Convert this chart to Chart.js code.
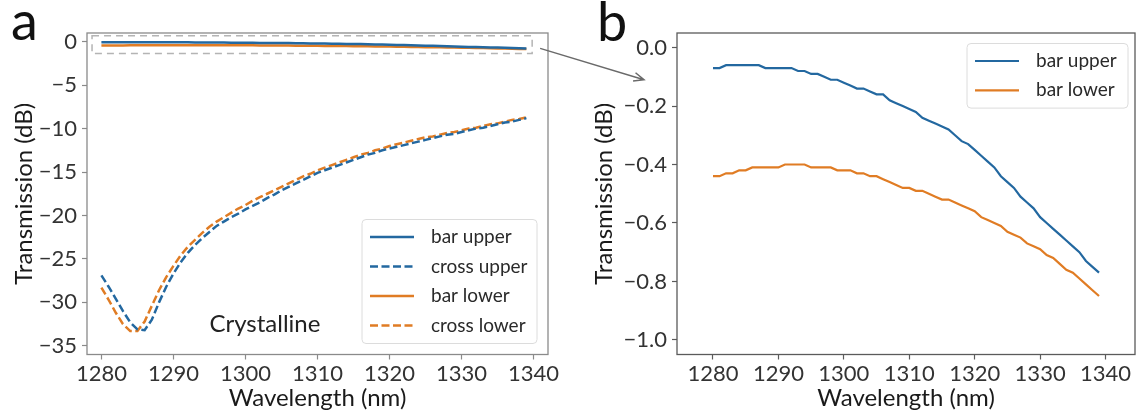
<!DOCTYPE html>
<html>
<head>
<meta charset="utf-8">
<script src="https://cdn.jsdelivr.net/npm/chart.js@4.4.1/dist/chart.umd.min.js"></script>
<style>
  body { margin: 0; background: #fff; }
  #wrap { position: relative; width: 1137px; height: 419px; overflow: hidden; }
  canvas { position: absolute; top: 0; }
  #chart-a { left: 0; }
  #chart-b { left: 580px; }
  #overlay { left: 0; pointer-events: none; }
</style>
</head>
<body>
<div id="wrap">
  <canvas id="chart-a" width="570" height="419"></canvas>
  <canvas id="chart-b" width="557" height="419"></canvas>
  <canvas id="overlay" width="1137" height="419"></canvas>
</div>
<script>
// Measured transmission, 1 nm steps
const wavelength = [
  1280, 1281, 1282, 1283, 1284, 1285, 1286, 1287, 1288, 1289,
  1290, 1291, 1292, 1293, 1294, 1295, 1296, 1297, 1298, 1299,
  1300, 1301, 1302, 1303, 1304, 1305, 1306, 1307, 1308, 1309,
  1310, 1311, 1312, 1313, 1314, 1315, 1316, 1317, 1318, 1319,
  1320, 1321, 1322, 1323, 1324, 1325, 1326, 1327, 1328, 1329,
  1330, 1331, 1332, 1333, 1334, 1335, 1336, 1337, 1338, 1339
];
const barUpper = [
  -0.07, -0.07, -0.06, -0.06, -0.06, -0.06, -0.06, -0.06, -0.07, -0.07,
  -0.07, -0.07, -0.07, -0.08, -0.08, -0.09, -0.09, -0.10, -0.11, -0.11,
  -0.12, -0.13, -0.14, -0.14, -0.15, -0.16, -0.16, -0.18, -0.19, -0.20,
  -0.21, -0.22, -0.24, -0.25, -0.26, -0.27, -0.28, -0.30, -0.32, -0.33,
  -0.35, -0.37, -0.39, -0.41, -0.44, -0.46, -0.48, -0.51, -0.53, -0.55,
  -0.58, -0.60, -0.62, -0.64, -0.66, -0.68, -0.70, -0.73, -0.75, -0.77
];
const barLower = [
  -0.44, -0.44, -0.43, -0.43, -0.42, -0.42, -0.41, -0.41, -0.41, -0.41,
  -0.41, -0.40, -0.40, -0.40, -0.40, -0.41, -0.41, -0.41, -0.41, -0.42,
  -0.42, -0.42, -0.43, -0.43, -0.44, -0.44, -0.45, -0.46, -0.47, -0.48,
  -0.48, -0.49, -0.49, -0.50, -0.51, -0.52, -0.52, -0.53, -0.54, -0.55,
  -0.56, -0.58, -0.59, -0.60, -0.61, -0.63, -0.64, -0.65, -0.67, -0.68,
  -0.69, -0.71, -0.72, -0.74, -0.76, -0.77, -0.79, -0.81, -0.83, -0.85
];
const crossUpper = [
  -26.9, -28.2, -29.6, -31.0, -32.3, -33.1, -33.2, -32.0, -30.0, -28.2,
  -26.7, -25.4, -24.3, -23.4, -22.6, -21.9, -21.2, -20.7, -20.2, -19.8,
  -19.3, -18.9, -18.5, -18.0, -17.6, -17.1, -16.7, -16.3, -15.9, -15.5,
  -15.1, -14.8, -14.5, -14.2, -13.9, -13.6, -13.3, -13.0, -12.8, -12.5,
  -12.3, -12.1, -11.9, -11.7, -11.5, -11.3, -11.1, -10.9, -10.7, -10.6,
  -10.4, -10.2, -10.0, -9.9, -9.7, -9.5, -9.3, -9.2, -9.0, -8.8
];
const crossLower = [
  -28.3, -29.7, -31.2, -32.5, -33.3, -33.3, -32.2, -30.4, -28.6, -27.1,
  -25.8, -24.6, -23.6, -22.8, -22.0, -21.3, -20.7, -20.2, -19.7, -19.2,
  -18.8, -18.3, -17.9, -17.5, -17.1, -16.7, -16.3, -15.9, -15.5, -15.2,
  -14.8, -14.5, -14.2, -13.9, -13.6, -13.3, -13.0, -12.8, -12.5, -12.3,
  -12.0, -11.8, -11.6, -11.4, -11.2, -11.0, -10.9, -10.7, -10.5, -10.4,
  -10.2, -10.0, -9.9, -9.7, -9.5, -9.4, -9.2, -9.0, -8.9, -8.7
];

const xTicks = [1280, 1290, 1300, 1310, 1320, 1330, 1340];
const yTicksA = [0, -5, -10, -15, -20, -25, -30, -35];
const yTicksB = [0, -0.2, -0.4, -0.6, -0.8, -1.0];

// zoomed region marked on panel a
const zoomBoxX = [1278.7, 1339.8];
const zoomBoxY = [-1.35, 0.68];

const FONT = 'Lato, "Open Sans", sans-serif';
const BLUE = '#2368a0';
const ORANGE = '#e07c24';
const DASH = [8, 3.5];

function points(ys) {
  return wavelength.map((x, i) => ({ x: x, y: ys[i] }));
}

function minusFmt(v, digits) {
  const s = Math.abs(v).toFixed(digits);
  return v < 0 ? '\u2212' + s : s;
}

// Frame round the plot area, all four sides
const framePlugin = {
  id: 'frame',
  afterDraw(chart, args, opts) {
    const a = chart.chartArea;
    const ctx = chart.ctx;
    ctx.save();
    ctx.strokeStyle = opts.color;
    ctx.lineWidth = 1.3;
    ctx.strokeRect(a.left, a.top, a.right - a.left, a.bottom - a.top);
    ctx.restore();
  }
};

// Legend box tucked into a corner of the plot area
const boxLegend = {
  id: 'boxLegend',
  afterDraw(chart, args, opts) {
    const a = chart.chartArea;
    const ctx = chart.ctx;
    const sets = chart.data.datasets;
    const w = opts.width;
    const h = opts.rowGap * sets.length + 6;
    const x0 = a.right - opts.right - w;
    const y0 = opts.bottom !== undefined ? a.bottom - opts.bottom - h : a.top + opts.top;
    ctx.save();
    ctx.beginPath();
    ctx.roundRect(x0, y0, w, h, 4);
    ctx.fillStyle = 'rgba(255,255,255,0.85)';
    ctx.fill();
    ctx.strokeStyle = '#dcdcdc';
    ctx.lineWidth = 1;
    ctx.stroke();
    ctx.font = opts.fontSize + 'px ' + FONT;
    ctx.textBaseline = 'middle';
    ctx.fillStyle = '#2a2a2a';
    sets.forEach((ds, i) => {
      const y = y0 + 17.5 + i * opts.rowGap;
      ctx.beginPath();
      ctx.setLineDash(ds.borderDash || []);
      ctx.strokeStyle = ds.borderColor;
      ctx.lineWidth = ds.borderWidth;
      ctx.moveTo(x0 + 8, y);
      ctx.lineTo(x0 + 52, y);
      ctx.stroke();
      ctx.setLineDash([]);
      ctx.fillText(ds.label, x0 + 69, y);
    });
    ctx.restore();
  }
};

// Dashed box and "Crystalline" label on panel a
const panelANotes = {
  id: 'panelANotes',
  beforeDatasetsDraw(chart) {
    const xs = chart.scales.x, ys = chart.scales.y;
    const ctx = chart.ctx;
    const l = xs.getPixelForValue(zoomBoxX[0]);
    const r = xs.getPixelForValue(zoomBoxX[1]);
    const t = ys.getPixelForValue(zoomBoxY[1]);
    const b = ys.getPixelForValue(zoomBoxY[0]);
    ctx.save();
    ctx.setLineDash([7, 5]);
    ctx.strokeStyle = '#b4b4b4';
    ctx.lineWidth = 1.5;
    ctx.strokeRect(l, t, r - l, b - t);
    ctx.restore();
  },
  afterDatasetsDraw(chart) {
    const xs = chart.scales.x, ys = chart.scales.y;
    const ctx = chart.ctx;
    ctx.save();
    ctx.font = '24px ' + FONT;
    ctx.fillStyle = '#222';
    ctx.textAlign = 'center';
    ctx.textBaseline = 'middle';
    ctx.fillText('Crystalline', xs.getPixelForValue(1302.7), ys.getPixelForValue(-32.5));
    ctx.restore();
  }
};

function scalesFor(xMin, xMax, yMin, yMax, yTicks, yDigits, yWidth, frameColor) {
  const tickFont = { family: FONT, size: 22 };
  const titleFont = { family: FONT, size: 24 };
  const grid = { display: true, drawOnChartArea: false, drawTicks: true, tickLength: 5, color: frameColor, tickWidth: 1.2 };
  return {
    x: {
      type: 'linear',
      min: xMin,
      max: xMax,
      afterBuildTicks: s => { s.ticks = xTicks.map(v => ({ value: v })); },
      afterFit: s => { s.height = 64.5; },
      ticks: { font: tickFont, color: '#333', padding: 1, autoSkip: false, maxRotation: 0, callback: v => String(v) },
      grid: grid,
      border: { display: false },
      title: { display: true, text: 'Wavelength (nm)', font: titleFont, color: '#1a1a1a', padding: { top: 0, bottom: 6 } }
    },
    y: {
      type: 'linear',
      min: yMin,
      max: yMax,
      afterBuildTicks: s => { s.ticks = yTicks.map(v => ({ value: v })); },
      afterFit: s => { s.width = yWidth; },
      ticks: { font: tickFont, color: '#333', padding: 5, autoSkip: false, callback: v => minusFmt(v, yDigits) },
      grid: grid,
      border: { display: false },
      title: { display: true, text: 'Transmission (dB)', font: titleFont, color: '#1a1a1a', padding: { top: 10, bottom: 0 } }
    }
  };
}

const chartA = new Chart(document.getElementById('chart-a'), {
  type: 'line',
  data: {
    datasets: [
      { label: 'bar upper', data: points(barUpper), borderColor: BLUE, borderWidth: 2.5 },
      { label: 'cross upper', data: points(crossUpper), borderColor: BLUE, borderWidth: 2.5, borderDash: DASH },
      { label: 'bar lower', data: points(barLower), borderColor: ORANGE, borderWidth: 2.5 },
      { label: 'cross lower', data: points(crossLower), borderColor: ORANGE, borderWidth: 2.5, borderDash: DASH }
    ]
  },
  options: {
    responsive: false,
    animation: false,
    devicePixelRatio: 1,
    elements: { point: { radius: 0 }, line: { tension: 0, fill: false } },
    layout: { padding: { left: 0, top: 33, right: 22, bottom: 0 } },
    scales: scalesFor(1278, 1342, -36, 1, yTicksA, 0, 87, '#8a8a8a'),
    plugins: {
      legend: { display: false },
      tooltip: { enabled: false },
      frame: { color: '#8a8a8a' },
      boxLegend: { width: 175, right: 11, bottom: 11, rowGap: 29.5, fontSize: 19 }
    }
  },
  plugins: [framePlugin, boxLegend, panelANotes]
});

const chartB = new Chart(document.getElementById('chart-b'), {
  type: 'line',
  data: {
    datasets: [
      { label: 'bar upper', data: points(barUpper), borderColor: BLUE, borderWidth: 2.2 },
      { label: 'bar lower', data: points(barLower), borderColor: ORANGE, borderWidth: 2.2 }
    ]
  },
  options: {
    responsive: false,
    animation: false,
    devicePixelRatio: 1,
    elements: { point: { radius: 0 }, line: { tension: 0, fill: false } },
    layout: { padding: { left: 0, top: 33, right: 2, bottom: 0 } },
    scales: scalesFor(1274.5, 1344.5, -1.05, 0.05, yTicksB, 1, 97, '#5a5a5a'),
    plugins: {
      legend: { display: false },
      tooltip: { enabled: false },
      frame: { color: '#5a5a5a' },
      boxLegend: { width: 161, right: 7, top: 10.5, rowGap: 29.3, fontSize: 19 }
    }
  },
  plugins: [framePlugin, boxLegend]
});

// Panel letters and the pointer from the dashed box to panel b
(function drawOverlay() {
  const ctx = document.getElementById('overlay').getContext('2d');
  const offB = 580;
  ctx.font = '54px ' + FONT;
  ctx.fillStyle = '#111';
  ctx.textBaseline = 'alphabetic';
  ctx.fillText('a', 11, 40);
  ctx.fillText('b', 597, 41);

  const ax = chartA.scales.x, ay = chartA.scales.y, by = chartB.scales.y;
  const x1 = ax.getPixelForValue(zoomBoxX[1]) + 8;
  const y1 = ay.getPixelForValue(-0.77);
  const x2 = offB + chartB.chartArea.left - 33;
  const y2 = by.getPixelForValue(-0.11);
  const ang = Math.atan2(y2 - y1, x2 - x1);
  ctx.strokeStyle = '#6a6a6a';
  ctx.lineWidth = 1.5;
  ctx.beginPath();
  ctx.moveTo(x1, y1);
  ctx.lineTo(x2, y2);
  ctx.moveTo(x2 - 11 * Math.cos(ang - 0.4), y2 - 11 * Math.sin(ang - 0.4));
  ctx.lineTo(x2, y2);
  ctx.lineTo(x2 - 11 * Math.cos(ang + 0.4), y2 - 11 * Math.sin(ang + 0.4));
  ctx.stroke();
})();
</script>
</body>
</html>
